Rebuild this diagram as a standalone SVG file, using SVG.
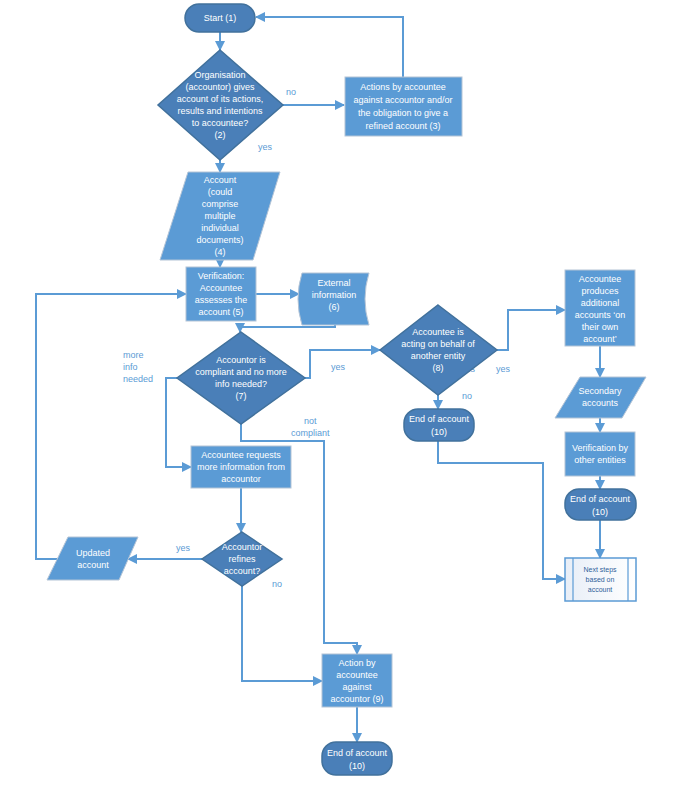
<svg xmlns="http://www.w3.org/2000/svg" width="694" height="809" viewBox="0 0 694 809">
<defs>
<marker id="ah" viewBox="0 0 10 10" refX="9" refY="5" markerWidth="5" markerHeight="5" orient="auto"><path d="M0,0 L10,5 L0,10 z" fill="#5b9bd5"/></marker>
<linearGradient id="g" x1="0" y1="0" x2="1" y2="0"><stop offset="0" stop-color="#e8eef7"/><stop offset="1" stop-color="#ffffff"/></linearGradient>
</defs>
<style>
.box{fill:#5b9bd5;stroke:#b4c4d6;stroke-width:1}
.dk{fill:#4a7fb8;stroke:#41719c;stroke-width:1.5}
.t{font-family:"Liberation Sans",Arial,sans-serif;font-size:9px;fill:#fff;text-anchor:middle}
.l{font-family:"Liberation Sans",Arial,sans-serif;font-size:9px;fill:#5b9bd5}
.c{fill:none;stroke:#5b9bd5;stroke-width:2;marker-end:url(#ah)}
.n{fill:none;stroke:#5b9bd5;stroke-width:2}
</style>
<rect width="694" height="809" fill="#fff"/>
<g id="connectors">
<path class="c" d="M220,32 V50"/>
<path class="c" d="M283,105 H344"/>
<path class="c" d="M403,77 V17 H256"/>
<path class="c" d="M220,160 V172"/>
<path class="c" d="M220,258 V267"/>
<path class="c" d="M256,294 H299"/>
<path class="c" d="M335,325 V327 H240 V332"/>
<path class="c" d="M305,378 H310 V350 H380"/>
<path class="c" d="M497,350 H508 V310 H565"/>
<path class="c" d="M600,346 V377"/>
<path class="c" d="M600,418 V432"/>
<path class="c" d="M600,476 V489"/>
<path class="c" d="M600,520 V558"/>
<path class="c" d="M438,395 V409"/>
<path class="c" d="M438,441 V463 H543 V579 H565"/>
<path class="c" d="M177,378 H166 V467 H191"/>
<path class="c" d="M241,424 V441 H324 V643 H357 V654"/>
<path class="c" d="M241,488 V532"/>
<path class="c" d="M202,559 H128"/>
<path class="c" d="M62,559 H36 V294 H186"/>
<path class="c" d="M242,586 V681 H322"/>
<path class="c" d="M357,707 V742"/>
</g>
<g id="labels">
<text class="l" x="286" y="95">no</text>
<text class="l" x="258" y="150">yes</text>
<text class="l" x="123" y="358">more</text>
<text class="l" x="123" y="370">info</text>
<text class="l" x="123" y="382">needed</text>
<text class="l" x="331" y="370">yes</text>
<text class="l" x="461" y="372">yes</text>
<text class="l" x="496" y="372">yes</text>
<text class="l" x="462" y="399">no</text>
<text class="l" x="304" y="424">not</text>
<text class="l" x="291" y="436">compliant</text>
<text class="l" x="176" y="551">yes</text>
<text class="l" x="272" y="587">no</text>
</g>
<g id="n1"><rect class="dk" x="185" y="4" width="70" height="28" rx="14"/><text class="t" x="220" y="21">Start (1)</text></g>
<g id="n2"><polygon class="dk" points="220,50 283,105 220,160 158,105"/>
<text class="t" x="220" y="78">Organisation</text><text class="t" x="220" y="90">(accountor) gives</text><text class="t" x="220" y="102">account of its actions,</text><text class="t" x="220" y="114">results and intentions</text><text class="t" x="220" y="126">to accountee?</text><text class="t" x="220" y="138">(2)</text></g>
<g id="n3"><rect class="box" x="345" y="77" width="117" height="59"/>
<text class="t" x="403" y="90">Actions by accountee</text><text class="t" x="403" y="103">against accountor and/or</text><text class="t" x="403" y="116">the obligation to give a</text><text class="t" x="403" y="129">refined account (3)</text></g>
<g id="n4"><polygon class="box" points="188,172 280,172 253,260 160,260"/>
<text class="t" x="220" y="183">Account</text><text class="t" x="220" y="195">(could</text><text class="t" x="220" y="207">comprise</text><text class="t" x="220" y="219">multiple</text><text class="t" x="220" y="231">individual</text><text class="t" x="220" y="243">documents)</text><text class="t" x="220" y="255">(4)</text></g>
<g id="n5"><rect class="box" x="186" y="267" width="70" height="54"/>
<text class="t" x="221" y="279">Verification:</text><text class="t" x="221" y="291">Accountee</text><text class="t" x="221" y="303">assesses the</text><text class="t" x="221" y="315">account (5)</text></g>
<g id="n6"><path class="box" d="M302,273 H369 Q361,299 369,325 H302 Q294,299 302,273 Z"/>
<text class="t" x="334" y="286">External</text><text class="t" x="334" y="298">information</text><text class="t" x="334" y="310">(6)</text></g>
<g id="n7"><polygon class="dk" points="241,332 305,378 241,424 177,378"/>
<text class="t" x="241" y="363">Accountor is</text><text class="t" x="241" y="375">compliant and no more</text><text class="t" x="241" y="387">info needed?</text><text class="t" x="241" y="399">(7)</text></g>
<g id="n8"><polygon class="dk" points="438,305 497,350 438,395 380,350"/>
<text class="t" x="438" y="335">Accountee is</text><text class="t" x="438" y="347">acting on behalf of</text><text class="t" x="438" y="359">another entity</text><text class="t" x="438" y="371">(8)</text></g>
<g id="n10a"><rect class="dk" x="404" y="409" width="70" height="32" rx="14"/><text class="t" x="439" y="422">End of account</text><text class="t" x="439" y="435">(10)</text></g>
<g id="n11"><rect class="box" x="565" y="270" width="70" height="76"/>
<text class="t" x="600" y="282">Accountee</text><text class="t" x="600" y="294">produces</text><text class="t" x="600" y="306">additional</text><text class="t" x="600" y="318">accounts ‘on</text><text class="t" x="600" y="330">their own</text><text class="t" x="600" y="342">account’</text></g>
<g id="n12"><polygon class="box" points="580,377 646,377 622,418 555,418"/>
<text class="t" x="600" y="394">Secondary</text><text class="t" x="600" y="406">accounts</text></g>
<g id="n13"><rect class="box" x="565" y="432" width="70" height="44"/>
<text class="t" x="600" y="451">Verification by</text><text class="t" x="600" y="463">other entities</text></g>
<g id="n10b"><rect class="dk" x="565" y="489" width="71" height="31" rx="14"/><text class="t" x="600" y="502">End of account</text><text class="t" x="600" y="515">(10)</text></g>
<g id="n14"><rect x="565" y="558" width="71" height="43" fill="url(#g)" stroke="#5b9bd5" stroke-width="1.5"/>
<line x1="573" y1="558" x2="573" y2="601" stroke="#5b9bd5" stroke-width="1.2"/><line x1="628" y1="558" x2="628" y2="601" stroke="#5b9bd5" stroke-width="1.2"/>
<text class="t" x="600" y="572" style="fill:#2f5f9a;font-size:7px">Next steps</text><text class="t" x="600" y="582" style="fill:#2f5f9a;font-size:7px">based on</text><text class="t" x="600" y="592" style="fill:#2f5f9a;font-size:7px">account</text></g>
<g id="n15"><rect class="box" x="191" y="446" width="100" height="42"/>
<text class="t" x="241" y="458">Accountee requests</text><text class="t" x="241" y="470">more information from</text><text class="t" x="241" y="482">accountor</text></g>
<g id="n16"><polygon class="dk" points="242,532 282,559 242,586 202,559"/>
<text class="t" x="242" y="550">Accountor</text><text class="t" x="242" y="562">refines</text><text class="t" x="242" y="574">account?</text></g>
<g id="n17"><polygon class="box" points="68,537 138,537 119,580 47,580"/>
<text class="t" x="93" y="556">Updated</text><text class="t" x="93" y="568">account</text></g>
<g id="n9"><rect class="box" x="322" y="654" width="70" height="53"/>
<text class="t" x="357" y="666">Action by</text><text class="t" x="357" y="678">accountee</text><text class="t" x="357" y="690">against</text><text class="t" x="357" y="702">accountor (9)</text></g>
<g id="n10c"><rect class="dk" x="322" y="742" width="70" height="33" rx="14"/><text class="t" x="357" y="756">End of account</text><text class="t" x="357" y="769">(10)</text></g>
</svg>
